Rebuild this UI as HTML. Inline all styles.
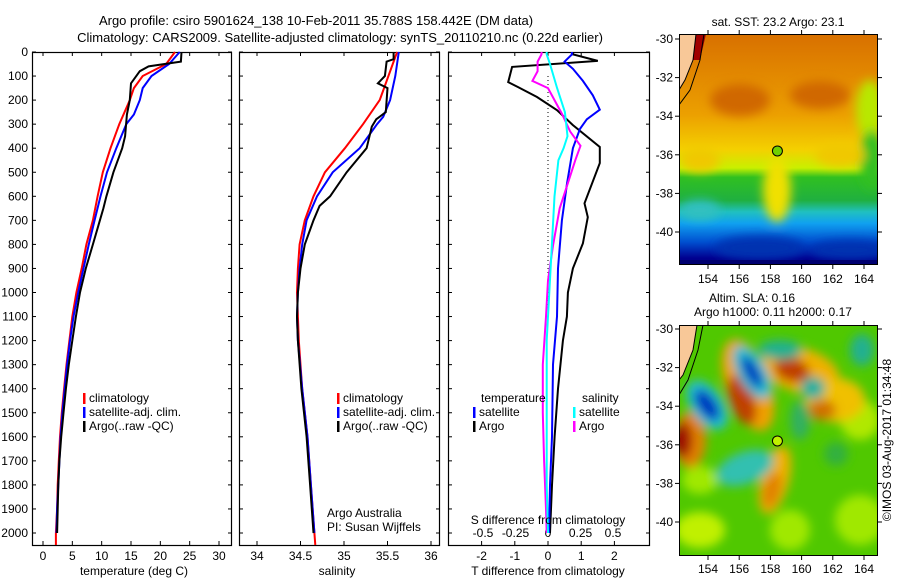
<!DOCTYPE html>
<html><head><meta charset="utf-8">
<style>
body{margin:0;background:#fff;}
svg{display:block;font-family:"Liberation Sans",sans-serif;font-size:12px;}
</style></head>
<body>
<svg id="fig" width="900" height="580" viewBox="0 0 900 580">
<defs>
<linearGradient id="sstg" x1="0" y1="0" x2="0" y2="1">
<stop offset="0" stop-color="#d87000"/><stop offset="0.35" stop-color="#eca000"/>
<stop offset="0.5" stop-color="#f4d000"/><stop offset="0.58" stop-color="#c8f000"/>
<stop offset="0.62" stop-color="#30c020"/><stop offset="0.72" stop-color="#20b040"/>
<stop offset="0.77" stop-color="#20c0c0"/><stop offset="0.82" stop-color="#10a0f0"/>
<stop offset="0.9" stop-color="#0050d0"/><stop offset="0.97" stop-color="#000090"/>
<stop offset="1" stop-color="#000080"/>
</linearGradient>
<filter id="blur" x="-50%" y="-50%" width="200%" height="200%"><feGaussianBlur stdDeviation="5"/></filter>
<clipPath id="c1"><rect x="679" y="34" width="199" height="231"/></clipPath>
<clipPath id="c2"><rect x="679" y="325" width="199" height="231"/></clipPath>
</defs>
<g id="root"></g>
</svg>
<script>
// ---------- data ----------
const tDepth = [0,50,100,150,200,300,400,500,600,700,800,900,1000,1100,1200,1300,1400,1500,1600,1700,1800,1900,2000,2050];
const tClim  = [22.5,21,17,15.5,14.8,13,11.5,10.2,9.3,8.5,7.4,6.6,5.7,5,4.5,4,3.6,3.2,2.9,2.7,2.5,2.4,2.2,2.2];
const tSatDepth = [0,50,100,150,200,260,300,400,500,600,700,800,900,1000,1100,1200,1300,1400,1500,1600,1700,1800,1900,2000];
const tSat  = [23.3,21.5,18.5,17,16.5,15.5,14.2,12.5,10.9,9.8,8.8,7.8,6.9,6,5.2,4.6,4.1,3.7,3.3,3,2.8,2.6,2.4,2.3];
const tArgoDepth = [0,40,60,80,130,200,260,350,400,500,600,650,700,800,900,1000,1100,1200,1300,1400,1500,1600,1700,1800,1900,2000];
const tArgo = [23.6,23.5,18,16.5,15,14.8,14.3,14,13.5,12,10.8,10.3,9.7,8.5,7.3,6.3,5.6,5,4.4,3.9,3.5,3.1,2.8,2.6,2.5,2.4];

const sClimDepth = [0,200,300,400,500,600,700,800,900,1000,1100,1200,1400,1600,1800,2000,2050];
const sClim = [35.61,35.41,35.22,35.01,34.78,34.65,34.55,34.49,34.47,34.46,34.47,34.48,34.52,34.58,34.62,34.66,34.67];
const sSatDepth = [0,100,200,270,300,400,500,600,700,800,900,1000,1100,1200,1400,1600,1800,2000];
const sSat = [35.63,35.59,35.53,35.45,35.38,35.18,34.87,34.69,34.57,34.52,34.49,34.47,34.46,34.47,34.52,34.58,34.62,34.66];
const sArgoDepth = [0,30,40,100,130,150,250,280,310,400,500,600,640,700,800,900,1000,1100,1200,1400,1600,1800,2000];
const sArgo = [35.57,35.57,35.49,35.47,35.39,35.5,35.48,35.37,35.32,35.26,35.03,34.84,34.72,34.65,34.55,34.5,34.47,34.46,34.47,34.51,34.57,34.61,34.65];

const dTArgoDepth = [0,10,37,62,125,146,187,242,304,395,462,629,687,796,900,1000,1100,1200,1400,1600,1800,2000];
const dTArgo = [0.75,0.75,1.5,-1.08,-1.2,-0.9,-0.33,0.27,0.75,1.56,1.56,1.1,1.2,1.05,0.75,0.6,0.57,0.45,0.3,0.2,0.12,0.06];
const dTSatDepth = [0,10,40,70,120,180,240,280,320,400,550,700,900,1100,1300,1600,1800,2000];
const dTSat = [0.72,0.72,0.5,0.75,1.05,1.35,1.56,1.17,0.96,0.75,0.57,0.42,0.3,0.27,0.15,0.12,0.06,0.03];
const dSSatDepth = [0,10,50,150,250,350,400,450,600,800,1000,1200,1500,1800,2000];
const dSSat = [-0.01,-0.01,0.015,0.07,0.13,0.15,0.12,0.08,0.05,0.03,0.01,-0.01,-0.01,-0.01,0];
const dSArgoDepth = [0,10,40,80,120,150,200,260,330,390,450,550,650,800,950,1100,1300,1500,1700,1900,2000];
const dSArgo = [-0.05,-0.05,-0.08,-0.08,-0.12,0,0.05,0.11,0.17,0.25,0.21,0.15,0.09,0.04,0,-0.015,-0.04,-0.04,-0.03,-0.015,-0.01];

const depthTicks = [0,100,200,300,400,500,600,700,800,900,1000,1100,1200,1300,1400,1500,1600,1700,1800,1900,2000];
const tempTicks = [0,5,10,15,20,25,30];
const salTicks = [34,34.5,35,35.5,36];
const salTickLabels = ["34","34.5","35","35.5","36"];
const dTTicks = [-2,-1,0,1,2];
const dSTicks = [-0.5,-0.25,0,0.25,0.5];
const dSTickLabels = ["-0.5","-0.25","0","0.25","0.5"];
const lonTicks = [154,156,158,160,162,164];
const latTicks = [-30,-32,-34,-36,-38,-40];
const argoLon = [158.45];
const argoLat = [-35.8];

// ---------- scales ----------
const NS="http://www.w3.org/2000/svg";
const root=document.getElementById('root');
const top0=52, bot=545;
const yD = d => top0 + d*0.2405;
const xT = v => 43 + v*5.867;
const xS = v => 257 + (v-34)*87;
const xDT = v => 548 + v*33.2;
const xDS = v => 548 + v*130;
const xLon = v => 708 + (v-154)*15.6;
const yLat1 = v => 39 + (-30 - v)*19.3;
const yLat2 = v => 329 + (-30 - v)*19.3;

function mk(tag, attrs, parent){const e=document.createElementNS(NS,tag);for(const k in attrs)e.setAttribute(k,attrs[k]);(parent||root).appendChild(e);return e;}
function txt(x,y,s,anchor,parent){const t=mk('text',{x:x,y:y,'text-anchor':anchor||'start',fill:'#000'},parent);t.textContent=s;return t;}

// panel frames
const panels=[[32,231],[239,439],[448,649]];
panels.forEach((p,i)=>{
  const r=mk('rect',{x:p[0]+0.5,y:top0+0.5,width:p[1]-p[0],height:bot-top0,fill:'#fff',stroke:'#000','stroke-width':1.2});
  
  
  depthTicks.forEach(d=>{
    const y=yD(d);
    mk('line',{x1:p[0],x2:p[0]+4,y1:y,y2:y,stroke:'#000'});
    mk('line',{x1:p[1]-3,x2:p[1]+1,y1:y,y2:y,stroke:'#000'});
  });
});
depthTicks.forEach(d=>{
  const t=txt(28,yD(d)+4,String(d),'end');
  
  
});
function xticks(vals,fx,p,labels,yl){
  vals.forEach((v,i)=>{
    const x=fx(v);
    mk('line',{x1:x,x2:x,y1:top0,y2:top0+4,stroke:'#000'});
    mk('line',{x1:x,x2:x,y1:bot-4,y2:bot,stroke:'#000'});
    if(labels){const t=txt(x,yl,labels[i],'middle');
      
      }
  });
}
xticks(tempTicks,xT,panels[0],tempTicks.map(String),560);
xticks(salTicks,xS,panels[1],salTickLabels,560);
xticks(dTTicks,xDT,panels[2],dTTicks.map(String),560);
dSTicks.forEach((v,i)=>{const t=txt(xDS(v),537,dSTickLabels[i],'middle');
  
  });

function series(ds,vs,fx,color,w,name){
  const pts=ds.map((d,i)=>fx(vs[i]).toFixed(1)+','+yD(d).toFixed(1)).join(' ');
  const l=mk('polyline',{points:pts,fill:'none',stroke:color,'stroke-width':w});
  
  
}
mk('line',{x1:548,x2:548,y1:yD(100),y2:yD(1100),stroke:'#000','stroke-dasharray':'1,3'});

series(tDepth,tClim,xT,'#f00',2,'temp-climatology-line');
series(tSatDepth,tSat,xT,'#00f',2,'temp-satellite-line');
series(tArgoDepth,tArgo,xT,'#000',2,'temp-argo-line');
series(sClimDepth,sClim,xS,'#f00',2,'sal-climatology-line');
series(sSatDepth,sSat,xS,'#00f',2,'sal-satellite-line');
series(sArgoDepth,sArgo,xS,'#000',2,'sal-argo-line');
series(dTArgoDepth,dTArgo,xDT,'#000',2,'tdiff-argo-line');
series(dTSatDepth,dTSat,xDT,'#00f',2,'tdiff-satellite-line');
series(dSArgoDepth,dSArgo,xDS,'#f0f',2,'sdiff-argo-line');
series(dSSatDepth,dSSat,xDS,'#0ff',2,'sdiff-satellite-line');

function leg(x,y,color,label){
  const r=mk('rect',{x:x,y:y-9,width:2.5,height:11,fill:color});
  
  
  const t=txt(x+6,y,label);
  
  
}
leg(83,402,'#f00','climatology');leg(83,416,'#00f','satellite-adj. clim.');leg(83,430,'#000','Argo(..raw -QC)');
leg(337,402,'#f00','climatology');leg(337,416,'#00f','satellite-adj. clim.');leg(337,430,'#000','Argo(..raw -QC)');
txt(481,402,'temperature');txt(582,402,'salinity');
leg(473,416,'#00f','satellite');leg(473,430,'#000','Argo');
leg(573,416,'#0ff','satellite');leg(573,430,'#f0f','Argo');
txt(327,517,'Argo Australia');txt(327,531,'PI: Susan Wijffels');
txt(548,524,'S difference from climatology','middle');

txt(134,575,'temperature (deg C)','middle');
txt(337,575,'salinity','middle');
txt(548,575,'T difference from climatology','middle');
txt(316,25,'Argo profile: csiro 5901624_138 10-Feb-2011 35.788S 158.442E (DM data)','middle').setAttribute('font-size','13');
txt(340,42,'Climatology: CARS2009. Satellite-adjusted climatology: synTS_20110210.nc (0.22d earlier)','middle').setAttribute('font-size','13');

// ---------- maps ----------
const g1=mk('g',{'clip-path':'url(#c1)'});


mk('rect',{x:679,y:34,width:199,height:231,fill:'url(#sstg)'},g1);
const b1=mk('g',{filter:'url(#blur)'},g1);
[[740,100,30,16,'#d06800'],[820,95,30,14,'#d06800'],[870,110,14,30,'#b8e800'],[872,160,12,30,'#30c020'],
 [777,190,14,32,'#f0e000'],[700,160,20,12,'#f0c800'],[840,155,25,12,'#f0c800'],[760,248,45,12,'#0030b0'],[850,250,40,10,'#0030b0'],[700,210,20,10,'#30c0c0']]
 .forEach(e=>mk('ellipse',{cx:e[0],cy:e[1],rx:e[2],ry:e[3],fill:e[4]},b1));
mk('rect',{x:679,y:260,width:199,height:5,fill:'#000070'},g1);
mk('polygon',{points:'679,34 696,34 693,60 685,80 679,90',fill:'#f8c898'},g1);
mk('polygon',{points:'696,34 706,34 700,60 693,60',fill:'#a00000'},g1);
mk('polyline',{points:'696,34 693,60 685,80 679,90',fill:'none',stroke:'#000'},g1);
mk('polyline',{points:'704,34 700,60 690,90 679,105',fill:'none',stroke:'#000'},g1);
mk('rect',{x:679.5,y:34.5,width:198,height:230,fill:'none',stroke:'#000'});

const g2=mk('g',{'clip-path':'url(#c2)'});


mk('rect',{x:679,y:325,width:199,height:231,fill:'#50c800'},g2);
const b2=mk('g',{filter:'url(#blur)'},g2);
[[700,530,25,18,'#c0f000',0],[790,530,20,20,'#a0e800',0],[860,520,25,25,'#a0e800',0],[860,420,20,20,'#b0e800',0],[700,480,18,14,'#a0e800',0],
 [748,385,22,48,'#f0a000',-20],[742,400,12,26,'#c04000',-20],
 [800,370,40,22,'#f0b000',15],[792,370,18,12,'#c04000',15],
 [835,400,30,22,'#f0c000',0],[822,410,14,10,'#d07000',0],
 [775,480,14,35,'#f0b000',15],[772,490,8,18,'#e08000',15],
 [690,440,16,28,'#e08000',0],[683,440,9,18,'#a00000',0],
 [707,405,16,28,'#20c0d0',-35],[707,405,9,18,'#0030c0',-35],
 [752,372,14,30,'#20c0d0',-30],[752,372,7,18,'#0030c0',-30],
 [780,350,22,10,'#20b090',0],[745,468,30,16,'#30c0b0',-20],[813,388,12,11,'#20b0a0',0],
 [862,350,12,16,'#20b090',0],[836,454,12,12,'#30b040',0],[800,420,10,20,'#30b060',0]]
 .forEach(e=>mk('ellipse',{cx:e[0],cy:e[1],rx:e[2],ry:e[3],fill:e[4],transform:'rotate('+e[5]+' '+e[0]+' '+e[1]+')'},b2));
mk('polygon',{points:'679,325 697,325 693,350 683,375 679,380',fill:'#f8c898'},g2);
mk('polyline',{points:'697,325 693,350 683,375 679,380',fill:'none',stroke:'#000'},g2);
mk('polyline',{points:'703,325 698,350 688,380 679,395',fill:'none',stroke:'#000'},g2);
mk('rect',{x:679.5,y:325.5,width:198,height:230,fill:'none',stroke:'#000'});

function mapAxes(yLat,t,b,ylab){
  lonTicks.forEach(v=>{const x=xLon(v);
    mk('line',{x1:x,x2:x,y1:t-4,y2:t,stroke:'#000'});mk('line',{x1:x,x2:x,y1:b,y2:b+4,stroke:'#000'});
    const tt=txt(x,ylab,String(v),'middle');
    
    });
  latTicks.forEach(v=>{const y=yLat(v);
    mk('line',{x1:675,x2:679,y1:y,y2:y,stroke:'#000'});mk('line',{x1:878,x2:882,y1:y,y2:y,stroke:'#000'});
    const tt=txt(673,y+4,String(v),'end');
    
    });
}
mapAxes(yLat1,34,265,283);
mapAxes(yLat2,325,556,573);
argoLon.forEach((lo,i)=>{
  const c1=mk('circle',{cx:xLon(lo),cy:yLat1(argoLat[i]),r:5,fill:'#70d000',stroke:'#000'});
  
  
  const c2=mk('circle',{cx:xLon(lo),cy:yLat2(argoLat[i]),r:5,fill:'#c0f000',stroke:'#000'});
  
  
});
txt(778,26,'sat. SST: 23.2 Argo: 23.1','middle');
txt(709,302,'Altim. SLA: 0.16');
txt(694,316,'Argo h1000: 0.11 h2000: 0.17');
const ims=txt(0,0,'©IMOS 03-Aug-2017 01:34:48','middle');
ims.setAttribute('transform','translate(891,440) rotate(-90)');


</script>
</body></html>
